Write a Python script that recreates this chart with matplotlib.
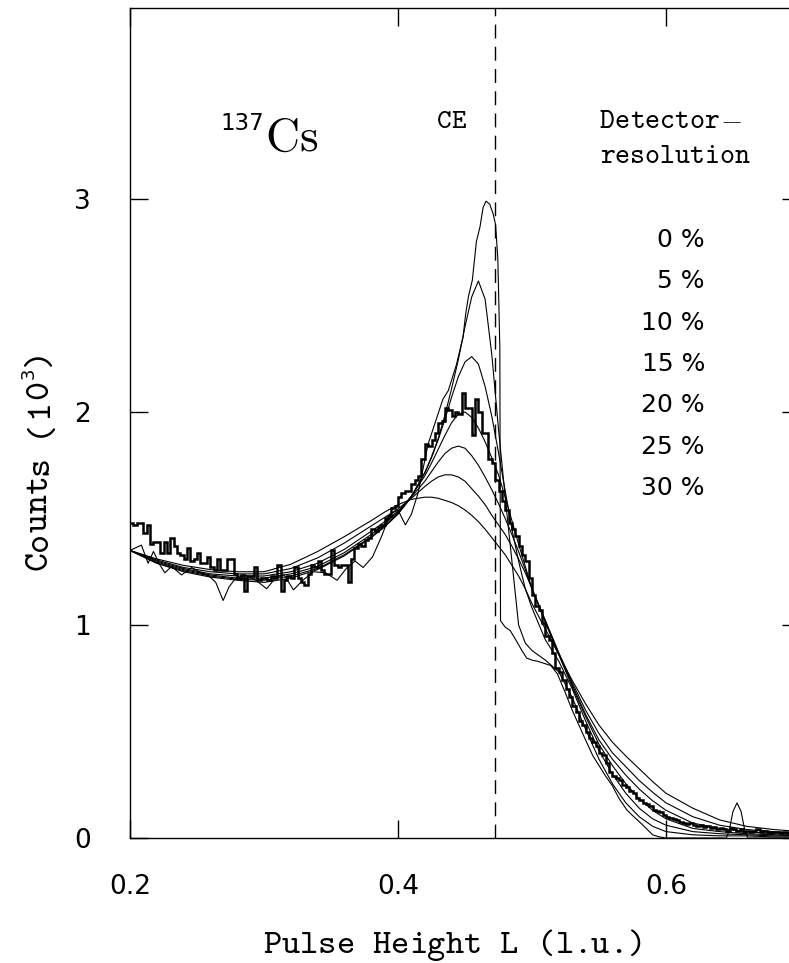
import os
import numpy as np
import matplotlib as mpl
import matplotlib.pyplot as plt
from matplotlib.font_manager import FontProperties

# measured spectrum (histogram, bin width 0.0025 starting at L = 0.2)
hist_start = 0.2
hist_width = 0.0025
hist_counts = [
    1.48, 1.47, 1.48, 1.48, 1.43, 1.47, 1.38, 1.39, 1.39, 1.34,
    1.39, 1.34, 1.41, 1.37, 1.34, 1.33, 1.31, 1.36, 1.30, 1.31,
    1.34, 1.29, 1.29, 1.32, 1.27, 1.26, 1.31, 1.26, 1.26, 1.31,
    1.31, 1.24, 1.22, 1.235, 1.16, 1.23, 1.23, 1.27, 1.21, 1.22,
    1.22, 1.21, 1.23, 1.22, 1.28, 1.16, 1.21, 1.23, 1.22, 1.27,
    1.22, 1.20, 1.19, 1.24, 1.28, 1.27, 1.30, 1.26, 1.24, 1.24,
    1.35, 1.28, 1.27, 1.28, 1.28, 1.20, 1.31, 1.36, 1.38, 1.37,
    1.40, 1.41, 1.45, 1.44, 1.46, 1.47, 1.50, 1.51, 1.55, 1.56,
    1.60, 1.62, 1.63, 1.63, 1.66, 1.68, 1.70, 1.78, 1.85, 1.84,
    1.87, 1.90, 1.95, 1.96, 2.02, 2.01, 1.98, 2.00, 1.99, 2.09,
    2.02, 2.02, 1.89, 2.06, 2.00, 1.90, 1.90, 1.78, 1.76, 1.68,
    1.63, 1.58, 1.54, 1.48, 1.45, 1.42, 1.37, 1.33, 1.30, 1.22,
    1.14, 1.09, 1.07, 1.01, 0.95, 0.93, 0.87, 0.80, 0.78, 0.74,
    0.70, 0.66, 0.62, 0.59, 0.55, 0.53, 0.50, 0.47, 0.45, 0.43,
    0.40, 0.39, 0.35, 0.31, 0.29, 0.28, 0.27, 0.25, 0.24, 0.22,
    0.21, 0.19, 0.18, 0.165, 0.16, 0.15, 0.13, 0.125, 0.12, 0.11,
    0.10, 0.095, 0.09, 0.085, 0.075, 0.07, 0.065, 0.07, 0.06, 0.055,
    0.06, 0.05, 0.055, 0.045, 0.05, 0.04, 0.045, 0.04, 0.035, 0.045,
    0.04, 0.035, 0.04, 0.03, 0.035, 0.03, 0.035, 0.04, 0.03, 0.035,
    0.03, 0.025, 0.03, 0.03, 0.025, 0.03, 0.025, 0.02, 0.025, 0.02,
]

# simulated spectra folded with detector resolution 5 ... 30 %
L_fit = [0.20, 0.22, 0.24, 0.26, 0.28, 0.30, 0.32, 0.34, 0.36, 0.38,
         0.39, 0.40, 0.41, 0.42, 0.425, 0.43, 0.435, 0.44, 0.445, 0.45,
         0.455, 0.46, 0.465, 0.47, 0.475, 0.48, 0.485, 0.49, 0.495, 0.50,
         0.51, 0.52, 0.53, 0.54, 0.55, 0.56, 0.57, 0.58, 0.59, 0.60,
         0.62, 0.64, 0.66, 0.68, 0.70]

res_30 = [1.35, 1.31, 1.28, 1.26, 1.25, 1.25, 1.285, 1.345, 1.415, 1.49,
          1.53, 1.565, 1.59, 1.60, 1.60, 1.595, 1.585, 1.575, 1.56, 1.54,
          1.515, 1.485, 1.45, 1.41, 1.37, 1.33, 1.28, 1.23, 1.17, 1.10,
          0.98, 0.86, 0.74, 0.63, 0.53, 0.45, 0.385, 0.325, 0.265, 0.21,
          0.14, 0.085, 0.055, 0.04, 0.03]
res_25 = [1.35, 1.305, 1.27, 1.25, 1.24, 1.24, 1.265, 1.315, 1.385, 1.465,
          1.505, 1.545, 1.595, 1.65, 1.675, 1.695, 1.705, 1.705, 1.695, 1.675,
          1.64, 1.605, 1.565, 1.515, 1.47, 1.425, 1.37, 1.31, 1.245, 1.17,
          1.02, 0.87, 0.73, 0.60, 0.49, 0.40, 0.335, 0.27, 0.215, 0.165,
          0.10, 0.06, 0.04, 0.03, 0.02]
res_20 = [1.35, 1.30, 1.265, 1.24, 1.23, 1.23, 1.25, 1.29, 1.355, 1.44,
          1.485, 1.535, 1.60, 1.675, 1.72, 1.765, 1.805, 1.83, 1.84, 1.83,
          1.795, 1.75, 1.695, 1.635, 1.57, 1.50, 1.425, 1.345, 1.26, 1.17,
          1.02, 0.865, 0.72, 0.58, 0.46, 0.37, 0.295, 0.23, 0.175, 0.13,
          0.07, 0.045, 0.03, 0.02, 0.015]
res_15 = [1.35, 1.295, 1.26, 1.235, 1.22, 1.22, 1.24, 1.275, 1.34, 1.425,
          1.475, 1.53, 1.605, 1.70, 1.76, 1.825, 1.89, 1.95, 1.99, 2.00,
          1.975, 1.925, 1.86, 1.785, 1.705, 1.60, 1.49, 1.38, 1.275, 1.17,
          1.01, 0.86, 0.71, 0.57, 0.44, 0.34, 0.255, 0.185, 0.13, 0.09,
          0.045, 0.03, 0.02, 0.015, 0.01]
res_10 = [1.35, 1.29, 1.255, 1.23, 1.215, 1.21, 1.23, 1.265, 1.33, 1.415,
          1.465, 1.525, 1.605, 1.715, 1.785, 1.87, 1.965, 2.07, 2.165, 2.235,
          2.26, 2.225, 2.12, 1.98, 1.81, 1.63, 1.45, 1.30, 1.17, 1.08,
          0.93, 0.83, 0.70, 0.55, 0.41, 0.30, 0.21, 0.14, 0.09, 0.06,
          0.03, 0.02, 0.015, 0.01, 0.01]
res_5 = [1.35, 1.29, 1.25, 1.225, 1.21, 1.20, 1.22, 1.26, 1.325, 1.41,
         1.46, 1.52, 1.60, 1.715, 1.79, 1.875, 1.985, 2.11, 2.245, 2.40,
         2.54, 2.615, 2.53, 2.27, 1.92, 1.60, 1.30, 1.00, 0.915, 0.88,
         0.835, 0.78, 0.66, 0.51, 0.37, 0.255, 0.165, 0.10, 0.055, 0.03,
         0.015, 0.01, 0.01, 0.005, 0.005]

# 0 % resolution (unfolded response, with wiggles)
L_0 = [0.200, 0.2085, 0.2135, 0.2175, 0.2225, 0.226, 0.231, 0.2385, 0.246, 0.253,
       0.259, 0.264, 0.2695, 0.274, 0.279, 0.286, 0.294, 0.302, 0.309, 0.315,
       0.322, 0.329, 0.337, 0.346, 0.3545, 0.362, 0.368, 0.374, 0.381, 0.388,
       0.394, 0.400, 0.4055, 0.410, 0.415, 0.4225, 0.4335, 0.4375, 0.4435, 0.4485,
       0.4505, 0.4525, 0.4555, 0.4585, 0.4612, 0.4635, 0.4657, 0.4685, 0.4710, 0.4728,
       0.4745, 0.4760, 0.4765, 0.4800, 0.4836, 0.4870, 0.4925, 0.4960, 0.5000, 0.5040,
       0.5090, 0.5140, 0.5190, 0.5250, 0.5300, 0.5350, 0.5400, 0.5455, 0.5500, 0.5550,
       0.5600, 0.5650, 0.5710, 0.5760, 0.5820, 0.5860, 0.5900, 0.5950, 0.6000, 0.6450,
       0.6470, 0.6500, 0.6530, 0.6560, 0.6590, 0.6610, 0.7000]
res_0 = [1.35, 1.375, 1.29, 1.345, 1.28, 1.245, 1.275, 1.235, 1.27, 1.245,
         1.23, 1.20, 1.115, 1.18, 1.22, 1.235, 1.21, 1.17, 1.225, 1.235,
         1.165, 1.21, 1.25, 1.245, 1.21, 1.27, 1.30, 1.27, 1.32, 1.42,
         1.52, 1.54, 1.47, 1.52, 1.62, 1.85, 2.06, 2.10, 2.22, 2.35,
         2.46, 2.54, 2.62, 2.80, 2.87, 2.96, 2.99, 2.975, 2.93, 2.88,
         2.72, 2.30, 1.02, 0.99, 0.975, 0.94, 0.88, 0.845, 0.835, 0.83,
         0.82, 0.81, 0.77, 0.68, 0.60, 0.53, 0.46, 0.385, 0.34, 0.29,
         0.245, 0.185, 0.13, 0.10, 0.065, 0.04, 0.015, 0.005, 0.0, 0.0,
         0.03, 0.125, 0.165, 0.125, 0.03, 0.0, 0.0]

resolutions = [0, 5, 10, 15, 20, 25, 30]
compton_edge = 0.4725

W, H = 789, 963
TT = os.path.join(mpl.get_data_path(), 'fonts', 'ttf', 'cmtt10.ttf')


def mono_text(x, y, s, size, vertical=False):
    # typewriter text, one glyph per fixed-width cell (x, y in pixels from top-left)
    fp = FontProperties(fname=TT, size=size)
    adv = 0.525 * size * 100 / 72
    for i, ch in enumerate(s):
        if ch == ' ':
            continue
        if vertical:
            px, py, rot = x, y - (i + 0.5) * adv, 90
        else:
            px, py, rot = x + (i + 0.5) * adv, y, 0
        fig.text(px / W, 1 - py / H, ch, fontproperties=fp, ha='center',
                 va='baseline', rotation=rot, rotation_mode='anchor')
    return adv * len(s)


fig = plt.figure(figsize=(W / 100, H / 100), dpi=100)
ax = fig.add_axes([130 / W, 125 / H, 670 / W, 830 / H])

for curve in [res_30, res_25, res_20, res_15, res_10, res_5]:
    ax.plot(L_fit, curve, color='black', lw=0.8)
ax.plot(L_0, res_0, color='black', lw=0.8)

edges = hist_start + hist_width * np.arange(len(hist_counts) + 1)
ax.stairs(hist_counts, edges, color='black', lw=1.8, baseline=None)

ax.axvline(compton_edge, color='black', lw=1.0, dashes=(10, 6))

ax.set_xlim(0.2, 0.7)
ax.set_ylim(0, 830 / 213)
ax.set_xticks([0.2, 0.4, 0.6])
ax.set_xticklabels(['0.2', '0.4', '0.6'])
ax.set_yticks([0, 1, 2, 3])
ax.set_yticklabels(['0', '1', '2', '3'])
ax.tick_params(direction='in', length=13, width=1, top=True, right=True,
               labelsize=19, colors='black')
ax.tick_params(axis='x', pad=26)
ax.tick_params(axis='y', pad=28)
for sp in ax.spines.values():
    sp.set_linewidth(1.0)

# axis labels
mono_text(263, 953, 'Pulse Height L (l.u.)', 25)
used = mono_text(47, 570, 'Counts (10', 26, vertical=True)
fig.text((47 - 13) / W, 1 - (570 - used - 7) / H, '3', fontsize=13,
         ha='center', va='baseline', rotation=90, rotation_mode='anchor')
mono_text(47, 570 - used - 14, ')', 26, vertical=True)

# annotations
ax.text(0.2 + (220 - 130) / 1340, 3.324, '137', fontsize=16.5,
        ha='left', va='baseline')
ax.text(0.2 + (265 - 130) / 1340, 3.225, r'$\mathrm{Cs}$', fontsize=34,
        math_fontfamily='cm', ha='left', va='baseline')
mono_text(437, 128, 'CE', 20)
mono_text(600, 128, 'Detector', 20.5)
fig.text(720 / W, 1 - 128 / H, r'$-$', math_fontfamily='cm', fontsize=20.5,
         ha='left', va='baseline')
mono_text(600, 163, 'resolution', 20.5)

for k, r in enumerate(resolutions):
    ax.text(0.6291, 2.775 - 0.194 * k, f'{r} %', fontsize=18,
            ha='right', va='baseline')

fig.savefig('out.png', dpi=100)
